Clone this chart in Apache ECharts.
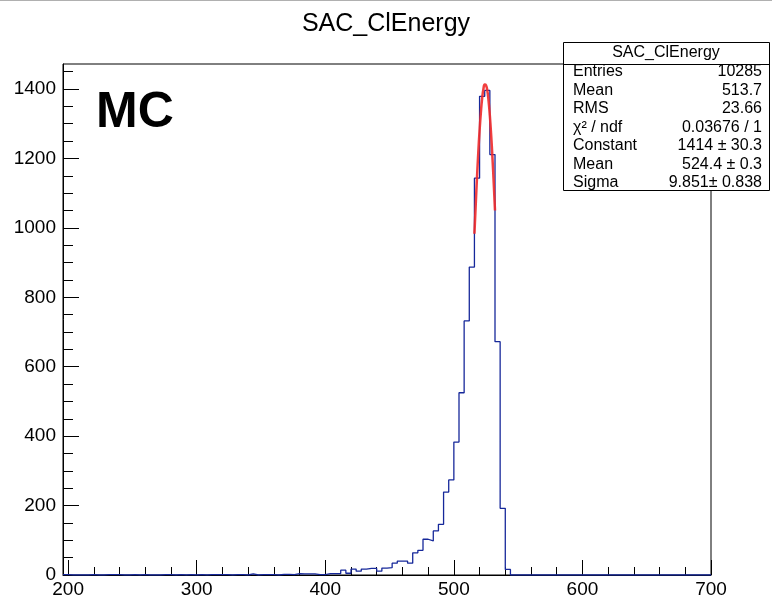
<!DOCTYPE html>
<html><head><meta charset="utf-8">
<script src="https://cdn.jsdelivr.net/npm/echarts@6/dist/echarts.min.js"></script>
<style>html,body{margin:0;padding:0;background:#fff}#c{width:772px;height:599px}</style>
</head><body><div id="c"></div><script>
// ---- data ----
const binLow = 196;
const binWidth = 4;
const counts = [
  1,0,0,0,0,1,0,0,1,1,
  1,0,0,1,0,1,0,0,0,1,
  1,0,1,0,1,0,1,0,1,1,
  1,1,0,1,1,0,3,0,1,1,
  1,0,2,2,1,4,3,3,3,1,
  1,4,4,4,14,5,17,11,17,19,
  19,11,20,21,34,40,40,34,64,71,
  103,98,127,146,239,274,383,525,732,887,
  1143,1379,1396,1211,672,192,16,0,0,0,
  0,0,0,0,0,0,0,0,0,0,
  0,0,0,0,0,0,0,0,0,0,
  0,0,0,0,0,0,0,0,0,0,
  0,0,0,0,0,0
];
const fitX = [516,517,518,519,520,521,522,523,524,525,526,527,528,529,530,531,532];
const fitY = [983,1066,1145,1217,1280,1332,1373,1400,1413,1411,1396,1366,1323,1268,1203,1130,1050];
const xMajorTicks = [200,300,400,500,600,700];
const xMinorTicks = [200,220,240,260,280,300,320,340,360,380,400,420,440,460,480,500,520,540,560,580,600,620,640,660,680,700];
const yMajorTicks = [0,200,400,600,800,1000,1200,1400];
const yMinorTicks = [0,50,100,150,200,250,300,350,400,450,500,550,600,650,700,750,800,850,900,950,1000,1050,1100,1150,1200,1250,1300,1350,1400,1450];
const chartTitle = 'SAC_ClEnergy';
const tagText = 'MC';
const statsTitle = 'SAC_ClEnergy';
const statsLabels = ['Entries','Mean','RMS','\u03C7\u00B2 / ndf','Constant','Mean','Sigma'];
const statsValues = ['10285','513.7','23.66','0.03676 / 1','1414 \u00B1 30.3','524.4 \u00B1 0.3','9.851\u00B1 0.838'];

// ---- build ----
const FONT = '"Liberation Sans", Arial, Helvetica, sans-serif';
const histPts = counts.map((c, i) => [binLow + i * binWidth, c]);
histPts.push([binLow + counts.length * binWidth, counts[counts.length - 1]]);
const fitPts = fitX.map((x, i) => [x, fitY[i]]);

const xMin = 196, xMax = 700, yMin = 0, yMax = 1472;

const graphics = [
  {type:'line', shape:{x1:0,y1:0.5,x2:772,y2:0.5}, style:{stroke:'#b0b0b0', lineWidth:1}, z:100},
  {type:'text', x:386, y:24, style:{text:chartTitle, font:'25px ' + FONT, fill:'#000', align:'center', verticalAlign:'middle'}, z:100},
  {type:'text', x:96, y:113, style:{text:tagText, font:'bold 50px ' + FONT, fill:'#000', align:'left', verticalAlign:'middle'}, z:100},
  {type:'rect', shape:{x:563.5, y:42.5, width:206, height:148}, style:{fill:'#fff', stroke:'#000', lineWidth:1}, z:100},
  {type:'line', shape:{x1:563.5, y1:64.5, x2:769.5, y2:64.5}, style:{stroke:'#000', lineWidth:1}, z:101},
  {type:'text', x:666, y:53, style:{text:statsTitle, font:'16px ' + FONT, fill:'#000', align:'center', verticalAlign:'middle'}, z:101}
];
statsLabels.forEach((lab, i) => {
  const yy = 72 + i * 18.5;
  graphics.push({type:'text', x:573, y:yy, style:{text:lab, font:'16px ' + FONT, fill:'#000', align:'left', verticalAlign:'middle'}, z:101});
  graphics.push({type:'text', x:762, y:yy, style:{text:statsValues[i], font:'16px ' + FONT, fill:'#000', align:'right', verticalAlign:'middle'}, z:101});
});

const axisText = {color:'#000', fontSize:19, fontFamily:FONT, formatter: v => String(v)};
const option = {
  animation: false,
  backgroundColor: '#fff',
  grid: {left:63, right:61, top:64, bottom:24, show:true, borderColor:'#000', borderWidth:1, backgroundColor:'transparent'},
  xAxis: [
    {type:'value', min:xMin, max:xMax, position:'bottom',
     axisLine:{show:true, onZero:false, lineStyle:{color:'#000', width:1}},
     axisTick:{show:true, inside:true, length:15, customValues:xMajorTicks, lineStyle:{color:'#000'}},
     axisLabel:{show:true, customValues:xMajorTicks, margin:5, ...axisText},
     splitLine:{show:false}},
    {type:'value', min:xMin, max:xMax, position:'bottom',
     axisLine:{show:false, onZero:false},
     axisTick:{show:true, inside:true, length:8, customValues:xMinorTicks, lineStyle:{color:'#000'}},
     axisLabel:{show:false}, splitLine:{show:false}}
  ],
  yAxis: [
    {type:'value', min:yMin, max:yMax, position:'left',
     axisLine:{show:true, onZero:false, lineStyle:{color:'#000', width:1}},
     axisTick:{show:true, inside:true, length:16, customValues:yMajorTicks, lineStyle:{color:'#000'}},
     axisLabel:{show:true, customValues:yMajorTicks, margin:7, ...axisText},
     splitLine:{show:false}},
    {type:'value', min:yMin, max:yMax, position:'left',
     axisLine:{show:false, onZero:false},
     axisTick:{show:true, inside:true, length:10, customValues:yMinorTicks, lineStyle:{color:'#000'}},
     axisLabel:{show:false}, splitLine:{show:false}}
  ],
  series: [
    {type:'line', name:'hist', xAxisIndex:0, yAxisIndex:0, data:histPts, step:'end',
     showSymbol:false, symbol:'none', lineStyle:{color:'#16289a', width:1.3}, z:5},
    {type:'line', name:'fit', xAxisIndex:0, yAxisIndex:0, data:fitPts, smooth:true,
     showSymbol:false, symbol:'none', lineStyle:{color:'#f02a2a', width:2.5, opacity:0.9}, z:6}
  ],
  graphic: graphics
};
const chart = echarts.init(document.getElementById('c'), null, {renderer:'canvas'});
chart.setOption(option);
</script></body></html>
